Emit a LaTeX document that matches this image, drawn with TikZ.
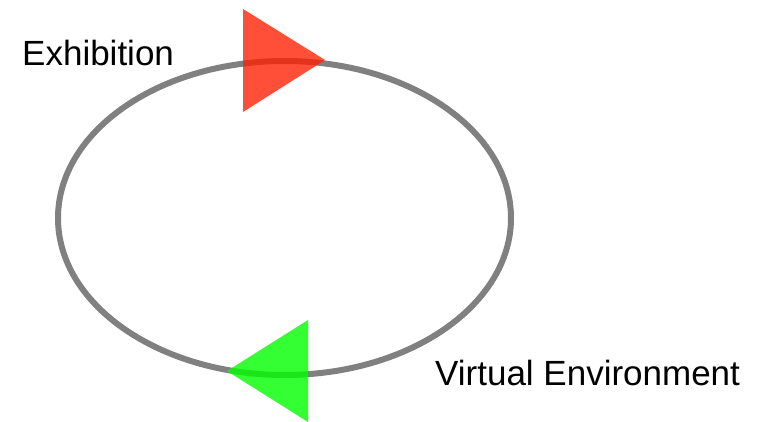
\documentclass[tikz,border=0pt]{standalone}
\usepackage{fontspec}
\setmainfont{Liberation Sans}
\begin{document}
\begin{tikzpicture}[x=1pt,y=-1pt,
  loopline/.style={draw={rgb,255:red,128;green,128;blue,128},line width=6pt},
  redtri/.style={fill={rgb,255:red,255;green,30;blue,0},fill opacity=0.78},
  greentri/.style={fill={rgb,255:red,0;green,255;blue,0},fill opacity=0.8},
  lab/.style={anchor=base west,inner sep=0pt,font=\fontsize{35}{41}\selectfont}]
\useasboundingbox (0,0) rectangle (764,421);
\coordinate (c) at (284.5,218);
\draw[loopline] (c) ellipse [x radius=226.5, y radius=157];
\coordinate (r1) at (243,9);
\coordinate (r2) at (243,112);
\coordinate (r3) at (325,60);
\fill[redtri] (r1) -- (r3) -- (r2) -- cycle;
\coordinate (g1) at (308,320);
\coordinate (g2) at (308,422);
\coordinate (g3) at (227,371);
\fill[greentri] (g1) -- (g3) -- (g2) -- cycle;
\node[lab] (ex) at (22,65) {Exhibition};
\node[lab] (ve) at (435,385) {Virtual Environment};
\end{tikzpicture}
\end{document}
